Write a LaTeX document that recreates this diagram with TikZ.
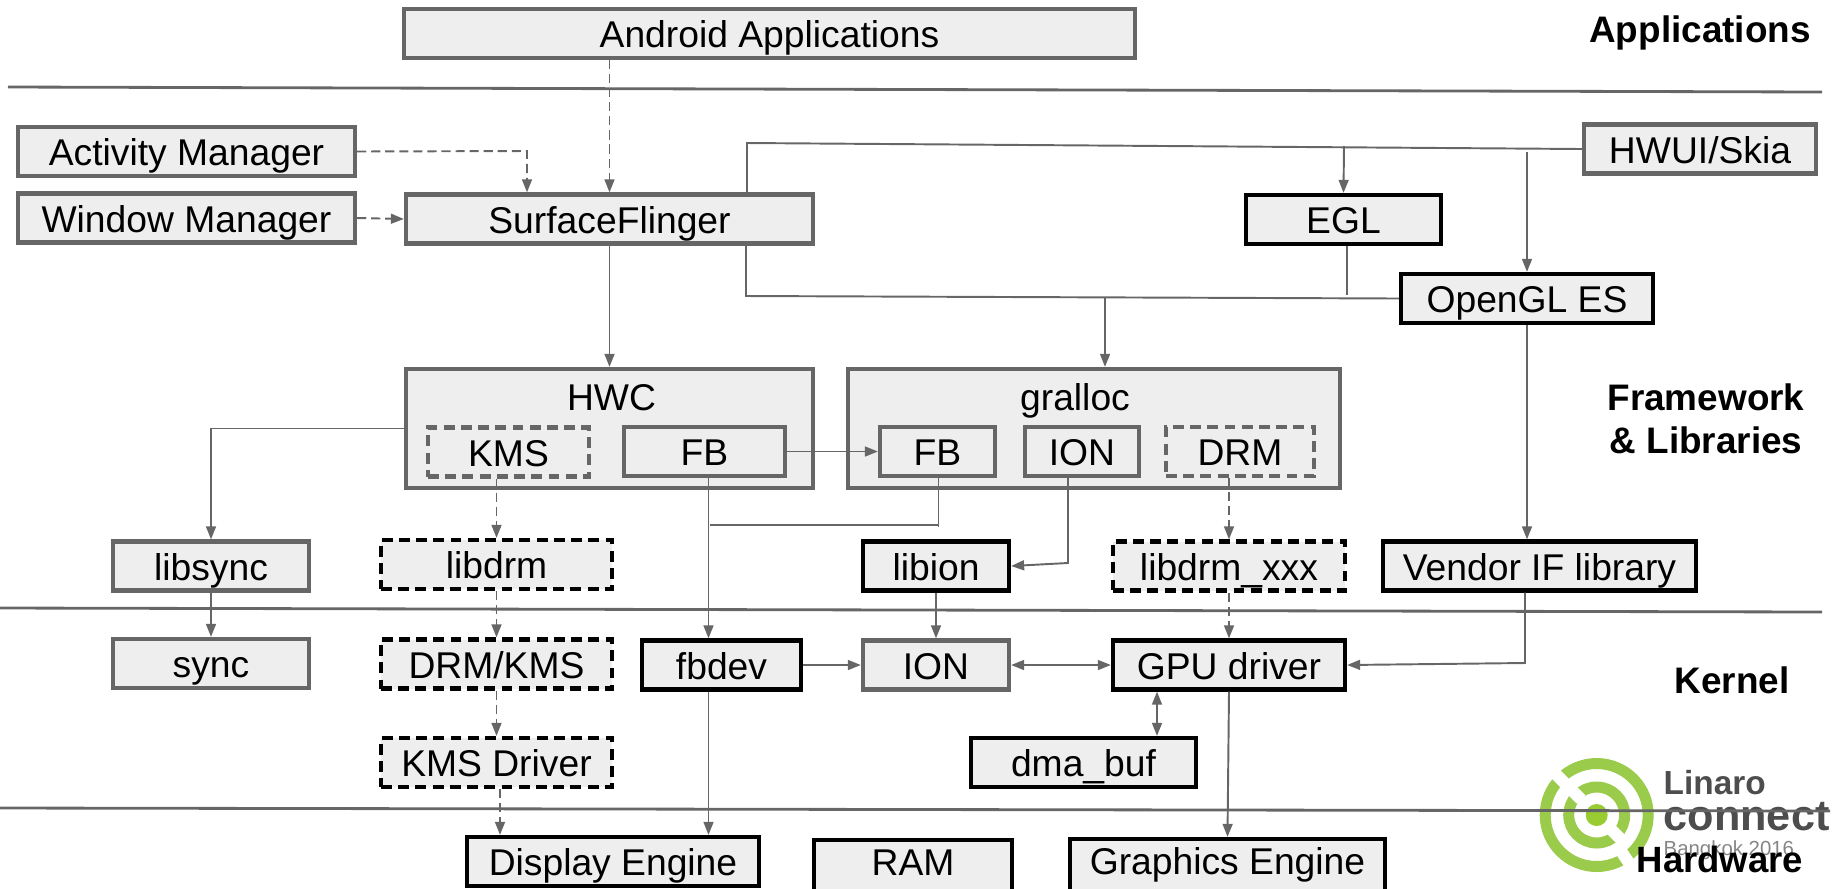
\documentclass[tikz,border=0pt]{standalone}
\usepackage{fontspec}
\setmainfont{Liberation Sans}
\usetikzlibrary{arrows.meta,calc}

\definecolor{boxfill}{HTML}{EEEEEE}
\definecolor{boxgray}{HTML}{666666}
\definecolor{logogreen}{HTML}{9BCB4B}
\definecolor{logodot}{HTML}{98CC30}
\definecolor{logotext}{HTML}{4D4D4D}

\tikzset{
    box/.style={draw=boxgray, fill=boxfill, line width=1.2pt, minimum height=0.49cm, inner sep=0pt,
        text height=9pt, text depth=1pt, font=\fontsize{10.6}{12}\selectfont},
    blackbox/.style={box, draw=black},
    footbox/.style={blackbox, minimum height=0.55cm, text height=7pt, text depth=2.4pt},
    dashbox/.style={box, dash pattern=on 3.1pt off 1.8pt},
    blackdash/.style={blackbox, dash pattern=on 3.1pt off 1.8pt},
    title/.style={inner sep=0pt, text height=9pt, text depth=1pt, font=\fontsize{10.6}{12}\selectfont},
    layer/.style={inner sep=0pt, align=center, font=\fontsize{10.5}{12.2}\selectfont\bfseries},
    rule/.style={draw=boxgray, line width=0.8pt},
    wire/.style={draw=boxgray, line width=0.55pt},
    flow/.style={wire, -{Stealth[length=3.7pt,width=2.8pt,inset=0pt]}},
    both/.style={wire, {Stealth[length=3.7pt,width=2.8pt,inset=0pt]}-{Stealth[length=3.7pt,width=2.8pt,inset=0pt]}},
    dflow/.style={flow, dash pattern=on 2.6pt off 1.4pt},
}

\begin{document}
\begin{tikzpicture}
    \useasboundingbox (0, 0) rectangle (18.41, -8.88);

    % Logo
    \draw[logogreen, line width=0.11cm] (15.967, -8.15) circle (0.515);
    \draw[logogreen, line width=0.11cm] (15.967, -8.15) circle (0.28);
    \draw[white, line width=0.12cm] (15.967, -8.15) ++(135:0.22) -- ++(135:0.45);
    \draw[white, line width=0.12cm] (15.967, -8.15) ++(-45:0.2) -- ++(-45:0.22);
    \draw[white, line width=0.12cm] (15.967, -8.15) ++(-56:0.44) -- ++(-56:0.2);
    \fill[logodot] (15.967, -8.15) circle (0.11);
    \node[anchor=base west, inner sep=0pt, text=logotext, font=\fontsize{9.5}{11}\selectfont\bfseries] (linaro) at (16.63, -7.94) {Linaro};
    \node[anchor=base west, inner sep=0pt, text=logotext, font=\fontsize{12.3}{14}\selectfont\bfseries] (connect) at (16.63, -8.30) {connect};
    \node[anchor=base west, inner sep=0pt, text=boxgray!80, font=\fontsize{5.8}{7}\selectfont] (bangkok) at (16.63, -8.55) {Bangkok 2016};

    % Layer rules
    \draw[rule] (0.08, -0.87) -- (18.22, -0.92);
    \draw[rule] (0, -6.08) -- (18.22, -6.12);
    \draw[rule] (0, -8.08) -- (18.30, -8.11);

    % Layer names
    \node[layer] (applications) at (17.00, -0.33) {Applications};
    \node[layer] (framework) at (17.06, -4.19) {Framework\\\& Libraries};
    \node[layer] (kernel) at (17.32, -6.80) {Kernel};

    % Applications and framework
    \node[box, minimum width=7.31cm] (android) at (7.695, -0.335) {Android Applications};
    \node[box, minimum width=3.37cm] (activity) at (1.865, -1.515) {Activity Manager};
    \node[box, minimum width=3.37cm] (window) at (1.865, -2.18) {Window Manager};
    \node[box, minimum width=4.07cm] (sf) at (6.095, -2.19) {SurfaceFlinger};
    \node[box, minimum width=2.32cm] (skia) at (17.00, -1.49) {HWUI/Skia};
    \node[blackbox, minimum width=1.95cm] (egl) at (13.435, -2.195) {EGL};
    \node[blackbox, minimum width=2.52cm] (opengl) at (15.27, -2.985) {OpenGL ES};

    % HWC and gralloc
    \node[box, minimum width=4.07cm, minimum height=1.19cm] (hwc) at (6.095, -4.285) {};
    \node[title] (hwctitle) at (6.115, -3.96) {HWC};
    \node[dashbox, minimum width=1.61cm] (kms) at (5.085, -4.52) {KMS};
    \node[box, minimum width=1.61cm] (hwcfb) at (7.045, -4.515) {FB};
    \node[box, minimum width=4.92cm, minimum height=1.19cm] (gralloc) at (10.94, -4.285) {};
    \node[title] (gralloctitle) at (10.75, -3.96) {gralloc};
    \node[box, minimum width=1.15cm] (grfb) at (9.375, -4.515) {FB};
    \node[box, minimum width=1.14cm] (grion) at (10.82, -4.515) {ION};
    \node[dashbox, minimum width=1.48cm] (drm) at (12.40, -4.515) {DRM};

    % Libraries
    \node[box, minimum width=1.96cm] (libsync) at (2.11, -5.66) {libsync};
    \node[blackdash, minimum width=2.31cm] (libdrm) at (4.965, -5.645) {libdrm};
    \node[blackbox, minimum width=1.46cm] (libion) at (9.36, -5.66) {libion};
    \node[blackdash, minimum width=2.32cm] (libdrmx) at (12.29, -5.66) {libdrm\_xxx};
    \node[blackbox, minimum width=3.13cm] (vendor) at (15.395, -5.66) {Vendor IF library};

    % Kernel
    \node[box, minimum width=1.96cm] (sync) at (2.11, -6.635) {sync};
    \node[blackdash, minimum width=2.31cm] (drmkms) at (4.965, -6.64) {DRM/KMS};
    \node[blackbox, minimum width=1.59cm] (fbdev) at (7.215, -6.65) {fbdev};
    \node[box, minimum width=1.46cm] (ion) at (9.36, -6.65) {ION};
    \node[blackbox, minimum width=2.32cm] (gpu) at (12.29, -6.65) {GPU driver};
    \node[blackdash, minimum width=2.31cm] (kmsdrv) at (4.965, -7.625) {KMS Driver};
    \node[blackbox, minimum width=2.25cm] (dmabuf) at (10.835, -7.625) {dma\_buf};

    % Hardware
    \node[blackbox, minimum width=2.92cm] (display) at (6.13, -8.615) {Display Engine};
    \node[footbox, minimum width=1.98cm] (ram) at (9.13, -8.675) {RAM};
    \node[footbox, minimum width=3.15cm] (graphics) at (12.275, -8.665) {Graphics Engine};
    \node[layer, anchor=base, font=\fontsize{10.4}{12}\selectfont\bfseries] (hardware) at (17.20, -8.72) {Hardware};

    % Free ends and bends
    \coordinate (skiatee) at (7.47, -1.43);
    \coordinate (egltee) at (13.44, -1.46);
    \coordinate (gltee) at (15.27, -1.52);
    \coordinate (sfbend) at (7.46, -2.96);
    \coordinate (bustee) at (11.05, -2.975);
    \coordinate (eglfoot) at (13.47, -2.95);
    \coordinate (fbline) at (7.085, -5);
    \coordinate (fbtee) at (7.10, -5.25);
    \coordinate (grfbfoot) at (9.385, -5.27);
    \coordinate (ionbend) at (10.68, -5.63);
    \coordinate (vendorbend) at (15.25, -6.63);
    \coordinate (dmaline) at (11.57, -7.1);
    \coordinate (activitybend) at (5.27, -1.51);

    % Dashed connectors
    \draw[dflow] (android.south -| sf.north) -- (sf.north);
    \draw[dflow] (activity.east) -- (activitybend) -- (activitybend |- sf.north);
    \draw[dflow] (window.east) -- (sf.west);
    \draw[dflow] (kms.south -| libdrm.north) -- (libdrm.north);
    \draw[dflow] (drm.south -| libdrmx.north) -- (libdrmx.north);
    \draw[dflow] (libdrm.south) -- (drmkms.north);
    \draw[dflow] (drmkms.south) -- (kmsdrv.north);
    \draw[dflow] ($(kmsdrv.south)+(0.035,0)$) -- ($(kmsdrv.south |- display.north)+(0.035,0)$);
    \draw[dflow] (libdrmx.south) -- (gpu.north);

    % Solid connectors
    \draw[flow] (sf.south) -- (hwc.north);
    \draw[wire] (skia.west) -- (skiatee) -- (skiatee |- sf.north);
    \draw[flow] (egltee) -- (egl.north);
    \draw[flow] (gltee) -- (opengl.north);
    \draw[wire] (sf.south -| sfbend) -- (sfbend) -- (opengl.west);
    \draw[flow] (bustee) -- (bustee |- gralloc.north);
    \draw[wire] (egl.south -| eglfoot) -- (eglfoot);
    \draw[flow] (opengl.south) -- (opengl.south |- vendor.north);
    \draw[flow] (hwc.west) -| (libsync.north);
    \draw[flow] (hwcfb.east) -- (grfb.west);
    \draw[flow] (hwcfb.south -| fbline) -- (fbline |- fbdev.north);
    \draw[wire] (grfb.south -| grfbfoot) -- (grfbfoot);
    \draw[wire] (fbtee) -- (fbtee -| grfbfoot);
    \draw[flow] (grion.south -| ionbend) -- (ionbend) -- (libion.east);
    \draw[flow] (libsync.south) -- (sync.north);
    \draw[flow] (fbdev.east) -- (ion.west);
    \draw[flow] (fbdev.south -| fbline) -- (fbline |- display.north);
    \draw[flow] (libion.south) -- (ion.north);
    \draw[both] (ion.east) -- (gpu.west);
    \draw[flow] (vendor.south -| vendorbend) -- (vendorbend) -- (gpu.east);
    \draw[both] (gpu.south -| dmaline) -- (dmabuf.north -| dmaline);
    \draw[flow] (gpu.south) -- (graphics.north);
\end{tikzpicture}
\end{document}
